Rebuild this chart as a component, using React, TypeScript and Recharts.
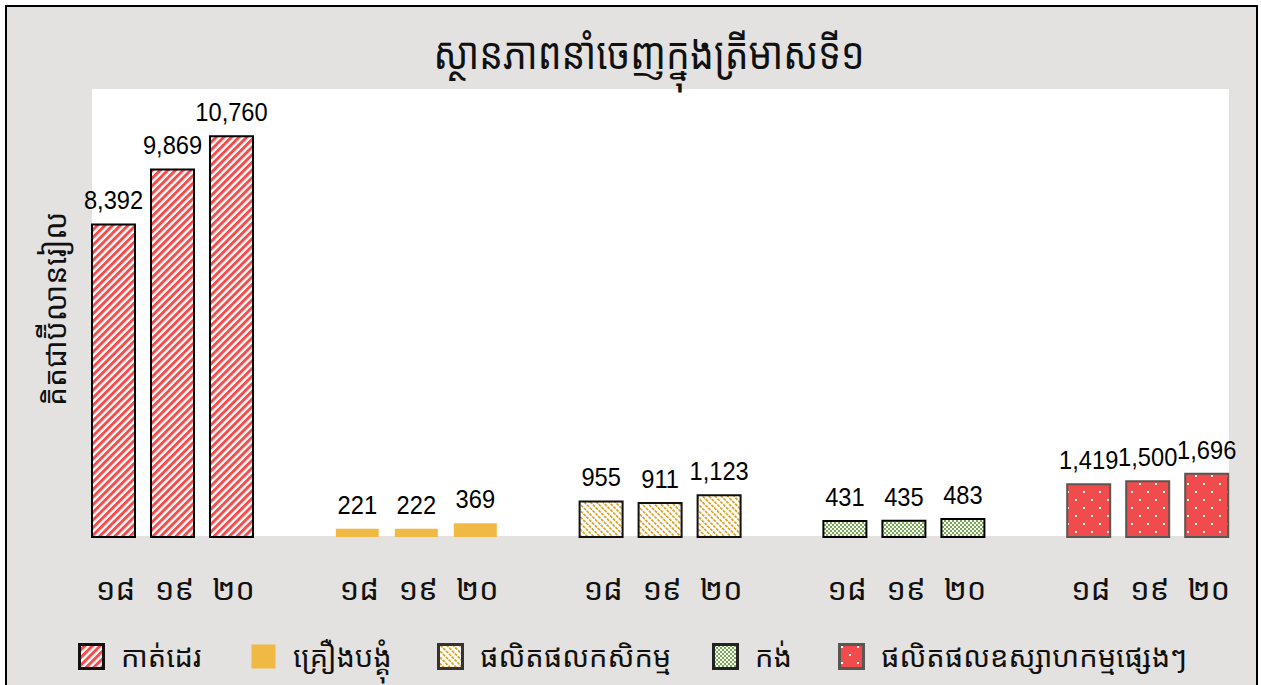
import React from 'react';
import { BarChart, Bar, XAxis, YAxis, Cell, LabelList } from 'recharts';

const title = 'ស្ថានភាពនាំចេញក្នុងត្រីមាសទី១';
const yAxisTitle = 'គិតជាប៊ីលានរៀល';
const categories = ['កាត់ដេរ', 'គ្រឿងបង្គុំ', 'ផលិតផលកសិកម្ម', 'កង់', 'ផលិតផលឧស្សាហកម្មផ្សេងៗ'];
const yearTicks = ['១៨', '១៩', '២០'];
const values18 = [8392, 221, 955, 431, 1419];
const values19 = [9869, 222, 911, 435, 1500];
const values20 = [10760, 369, 1123, 483, 1696];
const yDomain = [0, 12000];

const fills = ['url(#pGarment)', '#f0b944', 'url(#pAgri)', 'url(#pBike)', 'url(#pOther)'];
const strokes = ['#000000', 'none', '#111111', '#000000', '#5a5652'];
const legendBorders = ['#111', 'none', '#333', '#222', '#5a5652'];
const legendLefts = [78, 250, 437, 712, 838];

const data = categories.map((name, i) => ({
  name,
  y18: values18[i],
  y19: values19[i],
  y20: values20[i],
}));

const KHMER = "'Khmer OS', 'Khmer OS System', 'Noto Sans Khmer', 'Noto Serif Khmer', 'Hanuman', sans-serif";
const LATIN = "'Liberation Sans', Arial, sans-serif";

const fmt = (v: number) => v.toLocaleString('en-US');

const ValueLabel = (props: any) => {
  const { x, y, width, value } = props;
  const cx = Number(x) + Number(width) / 2;
  const by = Number(y) - 15;
  return (
    <text
      x={0}
      y={0}
      transform={`translate(${cx},${by}) scale(0.91,1)`}
      textAnchor="middle"
      fontFamily={LATIN}
      fontSize={26}
      fill="#000"
    >
      {fmt(Number(value))}
    </text>
  );
};

const makeYearLabel = (label: string) => (props: any) => {
  const { x, y, width, height } = props;
  const cx = Number(x) + Number(width) / 2 + 2;
  const by = Number(y) + Number(height) + 63;
  return (
    <text x={cx} y={by} textAnchor="middle" fontFamily={KHMER} fontSize={31} fill="#111">
      {label}
    </text>
  );
};

const Patterns = () => (
  <defs>
    <pattern id="pGarment" patternUnits="userSpaceOnUse" width="5.4" height="5.4" patternTransform="rotate(45)">
      <rect x="0" y="0" width="5.4" height="5.4" fill="#ffffff" />
      <rect x="0" y="0" width="3" height="5.4" fill="#f44b4b" />
    </pattern>
    <pattern id="pAgri" patternUnits="userSpaceOnUse" width="4.4" height="4" patternTransform="rotate(-45)">
      <rect x="0" y="0" width="4.4" height="4" fill="#ffffff" />
      <rect x="0" y="0" width="1.6" height="3" fill="#d99b14" />
    </pattern>
    <pattern id="pBike" patternUnits="userSpaceOnUse" width="4" height="4">
      <rect x="0" y="0" width="4" height="4" fill="#ffffff" />
      <rect x="0" y="0" width="2" height="2" fill="#74aa4e" />
      <rect x="2" y="2" width="2" height="2" fill="#74aa4e" />
    </pattern>
    <pattern id="pOther" patternUnits="userSpaceOnUse" width="16" height="16">
      <rect x="0" y="0" width="16" height="16" fill="#f04c4e" />
      <rect x="3" y="3" width="2" height="2" fill="#ffffff" />
      <rect x="11" y="11" width="2" height="2" fill="#ffffff" />
    </pattern>
  </defs>
);

export default function App() {
  return (
    <div
      style={{
        position: 'fixed',
        left: 0,
        top: 0,
        width: 1261,
        height: 685,
        overflow: 'hidden',
        background: '#ffffff',
        fontFamily: KHMER,
      }}
    >
      <div
        style={{
          position: 'absolute',
          left: 5,
          top: 5,
          width: 1249,
          height: 720,
          border: '2px solid #000',
          background: '#e3e2e0',
        }}
      />
      <div
        style={{
          position: 'absolute',
          left: 92,
          top: 89,
          width: 1137,
          height: 447,
          background: '#ffffff',
        }}
      />
      <div
        style={{
          position: 'absolute',
          left: 0,
          top: 22,
          width: 1298,
          textAlign: 'center',
          fontSize: 40,
          lineHeight: '60px',
          color: '#111',
          whiteSpace: 'nowrap',
          transform: 'scale(0.94, 1.12)',
          transformOrigin: '649px 30px',
        }}
      >
        {title}
      </div>
      <div
        style={{
          position: 'absolute',
          left: 55,
          top: 309,
          transform: 'translate(-50%, -50%) rotate(-90deg)',
          fontSize: 30,
          lineHeight: '40px',
          color: '#111',
          whiteSpace: 'nowrap',
        }}
      >
        {yAxisTitle}
      </div>
      <div style={{ position: 'absolute', left: 0, top: 0 }}>
        <BarChart
          width={1280}
          height={700}
          data={data}
          margin={{ top: 90, right: 10, left: 51, bottom: 163 }}
          barSize={43}
          barGap={16}
        >
          <Patterns />
          <XAxis dataKey="name" hide />
          <YAxis hide domain={yDomain} />
          {(['y18', 'y19', 'y20'] as const).map((key, k) => (
            <Bar key={key} dataKey={key} isAnimationActive={false}>
              {data.map((d, i) => (
                <Cell key={i} fill={fills[i]} stroke={strokes[i]} strokeWidth={2} />
              ))}
              <LabelList dataKey={key} content={ValueLabel} />
              <LabelList dataKey={key} content={makeYearLabel(yearTicks[k])} />
            </Bar>
          ))}
        </BarChart>
      </div>
      {categories.map((c, i) => (
        <div
          key={c}
          style={{
            position: 'absolute',
            left: legendLefts[i],
            top: 634,
            height: 44,
            display: 'flex',
            alignItems: 'center',
            whiteSpace: 'nowrap',
          }}
        >
          <svg width={27} height={27} style={{ display: 'block' }}>
            <rect
              x={1.5}
              y={1.5}
              width={24}
              height={24}
              fill={fills[i]}
              stroke={legendBorders[i]}
              strokeWidth={legendBorders[i] === 'none' ? 0 : 3}
            />
          </svg>
          <span style={{ marginLeft: 16, fontSize: 29, lineHeight: '44px', color: '#111' }}>{c}</span>
        </div>
      ))}
    </div>
  );
}
